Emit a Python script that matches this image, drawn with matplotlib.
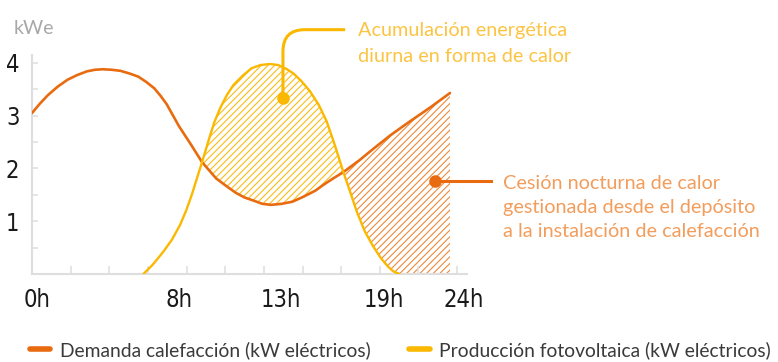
import matplotlib
matplotlib.use("Agg")
import matplotlib.pyplot as plt
from matplotlib.lines import Line2D
from matplotlib.path import Path
from matplotlib.patches import PathPatch

# Demand curve (kW electric), hours -> kW
demand_h = [0.0, 0.45, 0.9, 1.45, 2.0, 2.55, 3.1, 3.55, 4.0, 4.5, 5.0, 5.5, 6.0, 6.45,
            6.9, 7.25, 7.6, 8.3, 9.0, 9.6, 10.4, 11.0, 11.5, 12.0, 12.6, 13.0, 13.5,
            14.1, 14.7, 15.3, 16.0, 16.5, 17.0, 17.58, 18.5, 19.3, 20.2, 21.2, 22.5, 23.6]
demand_v = [3.05, 3.23, 3.39, 3.55, 3.68, 3.77, 3.84, 3.87, 3.88, 3.87, 3.85, 3.80, 3.74, 3.64,
            3.52, 3.38, 3.22, 2.80, 2.44, 2.12, 1.81, 1.66, 1.54, 1.45, 1.38, 1.33, 1.31,
            1.33, 1.37, 1.46, 1.58, 1.70, 1.81, 1.93, 2.16, 2.38, 2.62, 2.86, 3.16, 3.43]

# PV production curve
pv_h = [6.29, 6.8, 7.41, 7.9, 8.36, 8.7, 9.02, 9.3, 9.6, 10.05, 10.3, 10.62, 11.0, 11.37,
        11.9, 12.4, 12.9, 13.44, 13.9, 14.4, 14.76, 15.2, 15.7, 16.2, 16.64, 17.1, 17.58,
        18.0, 18.34, 18.8, 19.27, 19.7, 20.1, 20.4, 20.75]
pv_v = [0.0, 0.17, 0.42, 0.65, 0.93, 1.20, 1.50, 1.80, 2.12, 2.62, 2.88, 3.14, 3.39, 3.58,
        3.76, 3.90, 3.96, 3.98, 3.96, 3.88, 3.80, 3.66, 3.46, 3.20, 2.89, 2.44, 1.93,
        1.52, 1.18, 0.80, 0.52, 0.30, 0.14, 0.05, 0.0]

# indices where the two curves cross (same point in both lists)
CROSS1_D, CROSS1_P = 19, 8      # ~9.6h
CROSS2_D, CROSS2_P = 33, 26     # ~17.6h

ylabels = ["1", "2", "3", "4"]
xlabels = ["0h", "8h", "13h", "19h", "24h"]
xlabel_pos = [0.27, 8.3, 14.03, 19.88, 24.4]

ORANGE = "#e96b10"
YELLOW = "#fbb800"
ORANGE_TXT = "#f29d5c"
YELLOW_TXT = "#fbc443"
GRID = "#dedede"

TXT_FONT = ["Lato", "DejaVu Sans"]
NUM_FONT = ["DejaVu Sans"]

plt.rcParams["hatch.linewidth"] = 0.8

fig = plt.figure(figsize=(7.78, 3.62), dpi=100)
ax = fig.add_axes([32 / 778, 88 / 362, 435 / 778, 219 / 362])
ax.set_xlim(0, 24.56)
ax.set_ylim(0, 4.15)

for s in ["top", "right"]:
    ax.spines[s].set_visible(False)
for s in ["left", "bottom"]:
    ax.spines[s].set_color(GRID)
    ax.spines[s].set_linewidth(1.5)

# ticks
ax.set_yticks([1, 2, 3, 4], ylabels)
ax.set_yticks([0.5, 1.5, 2.5, 3.5], minor=True)
ax.tick_params(axis="y", which="both", direction="in", length=4, width=1.1, color=GRID, pad=9)
ax.set_xticks(xlabel_pos, xlabels)
ax.set_xticks([i * 24 / 11 for i in range(12)], minor=True)
ax.tick_params(axis="x", which="major", length=0, pad=10)
ax.tick_params(axis="x", which="minor", direction="in", length=6, width=1.1, color=GRID)
for lbl in ax.get_xticklabels() + ax.get_yticklabels():
    lbl.set_family(NUM_FONT)
    lbl.set_fontstretch("condensed")
    lbl.set_fontsize(17)
    lbl.set_color("#1a1a1a")

# hatched areas
day_x = pv_h[CROSS1_P:CROSS2_P + 1] + demand_h[CROSS1_D:CROSS2_D + 1][::-1]
day_y = pv_v[CROSS1_P:CROSS2_P + 1] + demand_v[CROSS1_D:CROSS2_D + 1][::-1]
ax.fill(day_x, day_y, facecolor="none", edgecolor="#fbbd18", linewidth=0, hatch="/////")

night_x = demand_h[CROSS2_D:] + [demand_h[-1]] + pv_h[CROSS2_P:][::-1]
night_y = demand_v[CROSS2_D:] + [0.0] + pv_v[CROSS2_P:][::-1]
ax.fill(night_x, night_y, facecolor="none", edgecolor="#ef8a3c", linewidth=0, hatch="/////")

ax.plot(demand_h, demand_v, color=ORANGE, lw=1.9, solid_capstyle="round", zorder=3)
ax.plot(pv_h, pv_v, color=YELLOW, lw=1.7, solid_capstyle="round", zorder=3)

# annotation 1 : daytime storage
verts = [(14.17, 3.34), (14.17, 4.22), (14.17, 4.63), (15.4, 4.63), (17.68, 4.63)]
codes = [Path.MOVETO, Path.LINETO, Path.CURVE3, Path.CURVE3, Path.LINETO]
ax.add_patch(PathPatch(Path(verts, codes), fill=False, edgecolor=YELLOW, lw=2.2,
                       capstyle="butt", clip_on=False, zorder=4))
ax.plot([14.17], [3.34], "o", color=YELLOW, ms=8, zorder=5, clip_on=False)
fig.text(358 / 778, (362 - 43.5) / 362, "Acumulación energética\ndiurna en forma de calor",
         ha="left", va="center", color=YELLOW_TXT, fontsize=14.3, family=TXT_FONT,
         linespacing=1.65)

# annotation 2 : night release
ax.plot([22.76, 25.92], [1.76, 1.76], color=ORANGE, lw=2.2, clip_on=False, zorder=4)
ax.plot([22.76], [1.76], "o", color=ORANGE, ms=8, zorder=5, clip_on=False)
fig.text(503 / 778, (362 - 207.7) / 362,
         "Cesión nocturna de calor\ngestionada desde el depósito\na la instalación de calefacción",
         ha="left", va="center", color=ORANGE_TXT, fontsize=14.3, family=TXT_FONT,
         linespacing=1.5)

fig.text(14 / 778, (362 - 28) / 362, "kWe", ha="left", va="center", color="#a8a8a8",
         fontsize=14, family=TXT_FONT)

handles = [Line2D([], [], color=ORANGE, lw=4, solid_capstyle="round"),
           Line2D([], [], color=YELLOW, lw=4, solid_capstyle="round")]
fig.legend(handles, ["Demanda calefacción (kW eléctricos)", "Producción fotovoltaica (kW eléctricos)"],
           loc="center left", bbox_to_anchor=(30 / 778, 12 / 362), ncol=2, frameon=False,
           handlelength=1.05, handletextpad=0.5, columnspacing=2.0, borderpad=0,
           borderaxespad=0, prop={"family": TXT_FONT, "size": 13.9}, labelcolor="#3a3a3a")

fig.savefig("out.png", dpi=100)
